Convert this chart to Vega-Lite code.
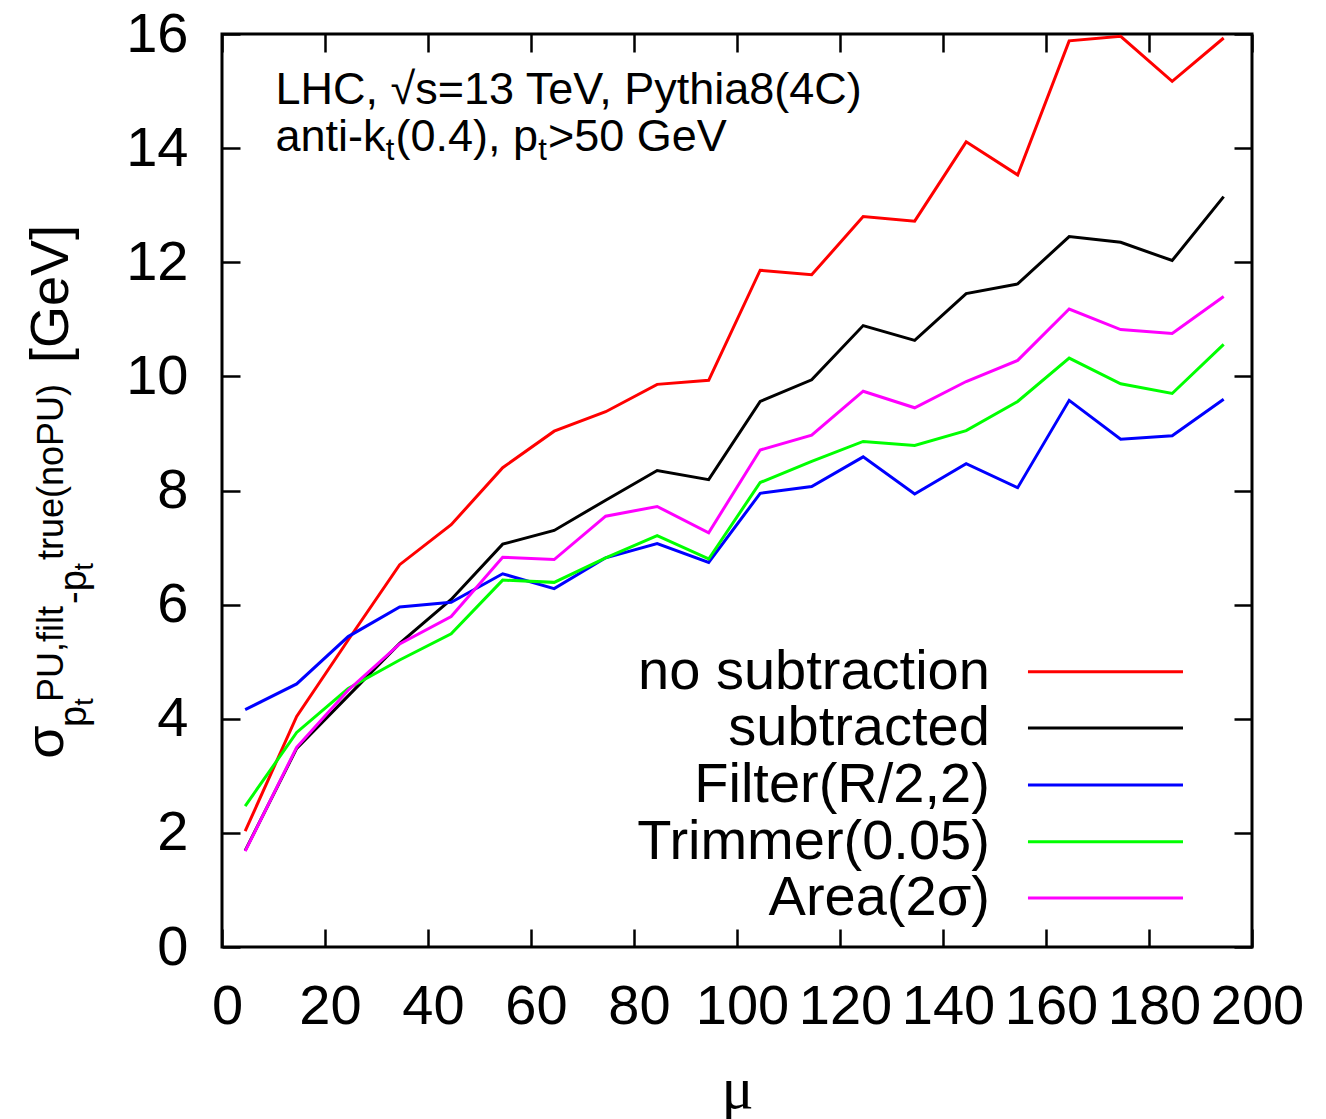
{
  "$schema": "https://vega.github.io/schema/vega-lite/v6.json",
  "width": 1030,
  "height": 913,
  "autosize": {"type": "none"},
  "padding": {"left": 222, "top": 34, "right": 74, "bottom": 172},
  "background": "white",
  "config": {
    "view": {"stroke": "black", "strokeWidth": 3},
    "font": "Liberation Sans",
    "axis": {
      "grid": false, "domain": false, "tickColor": "black", "tickWidth": 2.5, "tickSize": -18,
      "labelColor": "black", "labelFont": "Liberation Sans", "labelFontSize": 56,
      "labelOverlap": false, "labelFlush": false
    },
    "text": {"font": "Liberation Sans", "color": "black"}
  },
  "datasets": {
    "curves": [
      {"mu": 4.5, "sigma": 2.03, "series": "no subtraction"},
      {"mu": 14.5, "sigma": 4.04, "series": "no subtraction"},
      {"mu": 24.5, "sigma": 5.38, "series": "no subtraction"},
      {"mu": 34.5, "sigma": 6.70, "series": "no subtraction"},
      {"mu": 44.5, "sigma": 7.40, "series": "no subtraction"},
      {"mu": 54.5, "sigma": 8.40, "series": "no subtraction"},
      {"mu": 64.5, "sigma": 9.04, "series": "no subtraction"},
      {"mu": 74.5, "sigma": 9.38, "series": "no subtraction"},
      {"mu": 84.5, "sigma": 9.86, "series": "no subtraction"},
      {"mu": 94.5, "sigma": 9.93, "series": "no subtraction"},
      {"mu": 104.5, "sigma": 11.86, "series": "no subtraction"},
      {"mu": 114.5, "sigma": 11.78, "series": "no subtraction"},
      {"mu": 124.5, "sigma": 12.80, "series": "no subtraction"},
      {"mu": 134.5, "sigma": 12.72, "series": "no subtraction"},
      {"mu": 144.5, "sigma": 14.11, "series": "no subtraction"},
      {"mu": 154.5, "sigma": 13.53, "series": "no subtraction"},
      {"mu": 164.5, "sigma": 15.88, "series": "no subtraction"},
      {"mu": 174.5, "sigma": 15.96, "series": "no subtraction"},
      {"mu": 184.5, "sigma": 15.17, "series": "no subtraction"},
      {"mu": 194.5, "sigma": 15.93, "series": "no subtraction"},
      {"mu": 4.5, "sigma": 1.69, "series": "subtracted"},
      {"mu": 14.5, "sigma": 3.48, "series": "subtracted"},
      {"mu": 24.5, "sigma": 4.40, "series": "subtracted"},
      {"mu": 34.5, "sigma": 5.32, "series": "subtracted"},
      {"mu": 44.5, "sigma": 6.09, "series": "subtracted"},
      {"mu": 54.5, "sigma": 7.06, "series": "subtracted"},
      {"mu": 64.5, "sigma": 7.30, "series": "subtracted"},
      {"mu": 74.5, "sigma": 7.83, "series": "subtracted"},
      {"mu": 84.5, "sigma": 8.35, "series": "subtracted"},
      {"mu": 94.5, "sigma": 8.19, "series": "subtracted"},
      {"mu": 104.5, "sigma": 9.56, "series": "subtracted"},
      {"mu": 114.5, "sigma": 9.94, "series": "subtracted"},
      {"mu": 124.5, "sigma": 10.89, "series": "subtracted"},
      {"mu": 134.5, "sigma": 10.63, "series": "subtracted"},
      {"mu": 144.5, "sigma": 11.45, "series": "subtracted"},
      {"mu": 154.5, "sigma": 11.62, "series": "subtracted"},
      {"mu": 164.5, "sigma": 12.45, "series": "subtracted"},
      {"mu": 174.5, "sigma": 12.35, "series": "subtracted"},
      {"mu": 184.5, "sigma": 12.03, "series": "subtracted"},
      {"mu": 194.5, "sigma": 13.15, "series": "subtracted"},
      {"mu": 4.5, "sigma": 4.16, "series": "Filter(R/2,2)"},
      {"mu": 14.5, "sigma": 4.61, "series": "Filter(R/2,2)"},
      {"mu": 24.5, "sigma": 5.44, "series": "Filter(R/2,2)"},
      {"mu": 34.5, "sigma": 5.96, "series": "Filter(R/2,2)"},
      {"mu": 44.5, "sigma": 6.04, "series": "Filter(R/2,2)"},
      {"mu": 54.5, "sigma": 6.54, "series": "Filter(R/2,2)"},
      {"mu": 64.5, "sigma": 6.28, "series": "Filter(R/2,2)"},
      {"mu": 74.5, "sigma": 6.82, "series": "Filter(R/2,2)"},
      {"mu": 84.5, "sigma": 7.07, "series": "Filter(R/2,2)"},
      {"mu": 94.5, "sigma": 6.74, "series": "Filter(R/2,2)"},
      {"mu": 104.5, "sigma": 7.95, "series": "Filter(R/2,2)"},
      {"mu": 114.5, "sigma": 8.07, "series": "Filter(R/2,2)"},
      {"mu": 124.5, "sigma": 8.59, "series": "Filter(R/2,2)"},
      {"mu": 134.5, "sigma": 7.94, "series": "Filter(R/2,2)"},
      {"mu": 144.5, "sigma": 8.47, "series": "Filter(R/2,2)"},
      {"mu": 154.5, "sigma": 8.05, "series": "Filter(R/2,2)"},
      {"mu": 164.5, "sigma": 9.58, "series": "Filter(R/2,2)"},
      {"mu": 174.5, "sigma": 8.90, "series": "Filter(R/2,2)"},
      {"mu": 184.5, "sigma": 8.96, "series": "Filter(R/2,2)"},
      {"mu": 194.5, "sigma": 9.60, "series": "Filter(R/2,2)"},
      {"mu": 4.5, "sigma": 2.47, "series": "Trimmer(0.05)"},
      {"mu": 14.5, "sigma": 3.76, "series": "Trimmer(0.05)"},
      {"mu": 24.5, "sigma": 4.53, "series": "Trimmer(0.05)"},
      {"mu": 34.5, "sigma": 5.03, "series": "Trimmer(0.05)"},
      {"mu": 44.5, "sigma": 5.49, "series": "Trimmer(0.05)"},
      {"mu": 54.5, "sigma": 6.43, "series": "Trimmer(0.05)"},
      {"mu": 64.5, "sigma": 6.39, "series": "Trimmer(0.05)"},
      {"mu": 74.5, "sigma": 6.82, "series": "Trimmer(0.05)"},
      {"mu": 84.5, "sigma": 7.21, "series": "Trimmer(0.05)"},
      {"mu": 94.5, "sigma": 6.80, "series": "Trimmer(0.05)"},
      {"mu": 104.5, "sigma": 8.14, "series": "Trimmer(0.05)"},
      {"mu": 114.5, "sigma": 8.51, "series": "Trimmer(0.05)"},
      {"mu": 124.5, "sigma": 8.86, "series": "Trimmer(0.05)"},
      {"mu": 134.5, "sigma": 8.79, "series": "Trimmer(0.05)"},
      {"mu": 144.5, "sigma": 9.05, "series": "Trimmer(0.05)"},
      {"mu": 154.5, "sigma": 9.56, "series": "Trimmer(0.05)"},
      {"mu": 164.5, "sigma": 10.32, "series": "Trimmer(0.05)"},
      {"mu": 174.5, "sigma": 9.87, "series": "Trimmer(0.05)"},
      {"mu": 184.5, "sigma": 9.70, "series": "Trimmer(0.05)"},
      {"mu": 194.5, "sigma": 10.56, "series": "Trimmer(0.05)"},
      {"mu": 4.5, "sigma": 1.68, "series": "Area(2σ)"},
      {"mu": 14.5, "sigma": 3.50, "series": "Area(2σ)"},
      {"mu": 24.5, "sigma": 4.50, "series": "Area(2σ)"},
      {"mu": 34.5, "sigma": 5.31, "series": "Area(2σ)"},
      {"mu": 44.5, "sigma": 5.79, "series": "Area(2σ)"},
      {"mu": 54.5, "sigma": 6.83, "series": "Area(2σ)"},
      {"mu": 64.5, "sigma": 6.79, "series": "Area(2σ)"},
      {"mu": 74.5, "sigma": 7.55, "series": "Area(2σ)"},
      {"mu": 84.5, "sigma": 7.72, "series": "Area(2σ)"},
      {"mu": 94.5, "sigma": 7.26, "series": "Area(2σ)"},
      {"mu": 104.5, "sigma": 8.71, "series": "Area(2σ)"},
      {"mu": 114.5, "sigma": 8.97, "series": "Area(2σ)"},
      {"mu": 124.5, "sigma": 9.74, "series": "Area(2σ)"},
      {"mu": 134.5, "sigma": 9.45, "series": "Area(2σ)"},
      {"mu": 144.5, "sigma": 9.91, "series": "Area(2σ)"},
      {"mu": 154.5, "sigma": 10.28, "series": "Area(2σ)"},
      {"mu": 164.5, "sigma": 11.18, "series": "Area(2σ)"},
      {"mu": 174.5, "sigma": 10.82, "series": "Area(2σ)"},
      {"mu": 184.5, "sigma": 10.75, "series": "Area(2σ)"},
      {"mu": 194.5, "sigma": 11.40, "series": "Area(2σ)"}
    ]
  },
  "layer": [
    {
      "data": {"name": "curves"},
      "mark": {"type": "line", "strokeWidth": 3},
      "encoding": {
        "x": {"field": "mu", "type": "quantitative", "scale": {"domain": [0, 200], "nice": false, "zero": false},
          "axis": {"orient": "bottom", "values": [0, 20, 40, 60, 80, 100, 120, 140, 160, 180, 200], "labelPadding": 50, "labelOffset": 5,
            "title": "μ", "titleFont": "Liberation Serif", "titleFontSize": 60, "titleFontWeight": "normal", "titleColor": "black", "titlePadding": 26}},
        "y": {"field": "sigma", "type": "quantitative", "scale": {"domain": [0, 16], "nice": false, "zero": false},
          "axis": {"orient": "left", "values": [0, 2, 4, 6, 8, 10, 12, 14, 16], "labelPadding": 52, "title": null}},
        "color": {"field": "series", "type": "nominal",
          "scale": {"domain": ["no subtraction", "subtracted", "Filter(R/2,2)", "Trimmer(0.05)", "Area(2σ)"],
                    "range": ["#ff0000", "#000000", "#0000ff", "#00ff00", "#ff00ff"]},
          "legend": null}
      }
    },
    {
      "data": {"name": "curves"},
      "mark": {"type": "point", "opacity": 0},
      "encoding": {
        "x": {"field": "mu", "type": "quantitative", "scale": {"domain": [0, 200], "nice": false, "zero": false},
          "axis": {"orient": "top", "values": [0, 20, 40, 60, 80, 100, 120, 140, 160, 180, 200], "labels": false, "title": null}},
        "y": {"field": "sigma", "type": "quantitative", "scale": {"domain": [0, 16], "nice": false, "zero": false},
          "axis": {"orient": "right", "values": [0, 2, 4, 6, 8, 10, 12, 14, 16], "labels": false, "title": null}}
      }
    },
    {
      "data": {"values": [{"label": "LHC, √s=13 TeV, Pythia8(4C)"}]},
      "mark": {"type": "text", "align": "left", "baseline": "alphabetic", "fontSize": 45},
      "encoding": {
        "x": {"datum": 10.4, "scale": {"domain": [0, 200], "nice": false, "zero": false}, "axis": null},
        "y": {"datum": 14.77, "scale": {"domain": [0, 16], "nice": false, "zero": false}, "axis": null},
        "text": {"field": "label"}
      }
    },
    {
      "data": {"values": [{"label": "anti-k"}]},
      "mark": {"type": "text", "align": "left", "baseline": "alphabetic", "fontSize": 45},
      "encoding": {
        "x": {"datum": 10.4, "scale": {"domain": [0, 200], "nice": false, "zero": false}, "axis": null},
        "y": {"datum": 13.95, "scale": {"domain": [0, 16], "nice": false, "zero": false}, "axis": null},
        "text": {"field": "label"}
      }
    },
    {
      "data": {"values": [{"label": "t"}]},
      "mark": {"type": "text", "align": "left", "baseline": "alphabetic", "fontSize": 31},
      "encoding": {
        "x": {"datum": 31.8, "scale": {"domain": [0, 200], "nice": false, "zero": false}, "axis": null},
        "y": {"datum": 13.79, "scale": {"domain": [0, 16], "nice": false, "zero": false}, "axis": null},
        "text": {"field": "label"}
      }
    },
    {
      "data": {"values": [{"label": "(0.4), p"}]},
      "mark": {"type": "text", "align": "left", "baseline": "alphabetic", "fontSize": 45},
      "encoding": {
        "x": {"datum": 33.7, "scale": {"domain": [0, 200], "nice": false, "zero": false}, "axis": null},
        "y": {"datum": 13.95, "scale": {"domain": [0, 16], "nice": false, "zero": false}, "axis": null},
        "text": {"field": "label"}
      }
    },
    {
      "data": {"values": [{"label": "t"}]},
      "mark": {"type": "text", "align": "left", "baseline": "alphabetic", "fontSize": 31},
      "encoding": {
        "x": {"datum": 61.4, "scale": {"domain": [0, 200], "nice": false, "zero": false}, "axis": null},
        "y": {"datum": 13.79, "scale": {"domain": [0, 16], "nice": false, "zero": false}, "axis": null},
        "text": {"field": "label"}
      }
    },
    {
      "data": {"values": [{"label": ">50 GeV"}]},
      "mark": {"type": "text", "align": "left", "baseline": "alphabetic", "fontSize": 45},
      "encoding": {
        "x": {"datum": 63.3, "scale": {"domain": [0, 200], "nice": false, "zero": false}, "axis": null},
        "y": {"datum": 13.95, "scale": {"domain": [0, 16], "nice": false, "zero": false}, "axis": null},
        "text": {"field": "label"}
      }
    },
    {
      "data": {"values": [{"label": "no subtraction"}]},
      "mark": {"type": "text", "align": "right", "baseline": "middle", "fontSize": 56},
      "encoding": {
        "x": {"datum": 149.1, "scale": {"domain": [0, 200], "nice": false, "zero": false}, "axis": null},
        "y": {"datum": 4.825, "scale": {"domain": [0, 16], "nice": false, "zero": false}, "axis": null},
        "text": {"field": "label"}
      }
    },
    {
      "data": {"values": [{"label": "subtracted"}]},
      "mark": {"type": "text", "align": "right", "baseline": "middle", "fontSize": 56},
      "encoding": {
        "x": {"datum": 149.1, "scale": {"domain": [0, 200], "nice": false, "zero": false}, "axis": null},
        "y": {"datum": 3.838, "scale": {"domain": [0, 16], "nice": false, "zero": false}, "axis": null},
        "text": {"field": "label"}
      }
    },
    {
      "data": {"values": [{"label": "Filter(R/2,2)"}]},
      "mark": {"type": "text", "align": "right", "baseline": "middle", "fontSize": 56},
      "encoding": {
        "x": {"datum": 149.1, "scale": {"domain": [0, 200], "nice": false, "zero": false}, "axis": null},
        "y": {"datum": 2.839, "scale": {"domain": [0, 16], "nice": false, "zero": false}, "axis": null},
        "text": {"field": "label"}
      }
    },
    {
      "data": {"values": [{"label": "Trimmer(0.05)"}]},
      "mark": {"type": "text", "align": "right", "baseline": "middle", "fontSize": 56},
      "encoding": {
        "x": {"datum": 149.1, "scale": {"domain": [0, 200], "nice": false, "zero": false}, "axis": null},
        "y": {"datum": 1.845, "scale": {"domain": [0, 16], "nice": false, "zero": false}, "axis": null},
        "text": {"field": "label"}
      }
    },
    {
      "data": {"values": [{"label": "Area(2σ)"}]},
      "mark": {"type": "text", "align": "right", "baseline": "middle", "fontSize": 56},
      "encoding": {
        "x": {"datum": 149.1, "scale": {"domain": [0, 200], "nice": false, "zero": false}, "axis": null},
        "y": {"datum": 0.859, "scale": {"domain": [0, 16], "nice": false, "zero": false}, "axis": null},
        "text": {"field": "label"}
      }
    },
    {
      "data": {"values": [{"series": "no subtraction"}]},
      "mark": {"type": "rule", "strokeWidth": 3, "color": "#ff0000"},
      "encoding": {
        "x": {"datum": 156.5, "scale": {"domain": [0, 200], "nice": false, "zero": false}, "axis": null},
        "x2": {"datum": 186.6},
        "y": {"datum": 4.825, "scale": {"domain": [0, 16], "nice": false, "zero": false}, "axis": null}
      }
    },
    {
      "data": {"values": [{"series": "subtracted"}]},
      "mark": {"type": "rule", "strokeWidth": 3, "color": "#000000"},
      "encoding": {
        "x": {"datum": 156.5, "scale": {"domain": [0, 200], "nice": false, "zero": false}, "axis": null},
        "x2": {"datum": 186.6},
        "y": {"datum": 3.838, "scale": {"domain": [0, 16], "nice": false, "zero": false}, "axis": null}
      }
    },
    {
      "data": {"values": [{"series": "Filter(R/2,2)"}]},
      "mark": {"type": "rule", "strokeWidth": 3, "color": "#0000ff"},
      "encoding": {
        "x": {"datum": 156.5, "scale": {"domain": [0, 200], "nice": false, "zero": false}, "axis": null},
        "x2": {"datum": 186.6},
        "y": {"datum": 2.839, "scale": {"domain": [0, 16], "nice": false, "zero": false}, "axis": null}
      }
    },
    {
      "data": {"values": [{"series": "Trimmer(0.05)"}]},
      "mark": {"type": "rule", "strokeWidth": 3, "color": "#00ff00"},
      "encoding": {
        "x": {"datum": 156.5, "scale": {"domain": [0, 200], "nice": false, "zero": false}, "axis": null},
        "x2": {"datum": 186.6},
        "y": {"datum": 1.845, "scale": {"domain": [0, 16], "nice": false, "zero": false}, "axis": null}
      }
    },
    {
      "data": {"values": [{"series": "Area(2σ)"}]},
      "mark": {"type": "rule", "strokeWidth": 3, "color": "#ff00ff"},
      "encoding": {
        "x": {"datum": 156.5, "scale": {"domain": [0, 200], "nice": false, "zero": false}, "axis": null},
        "x2": {"datum": 186.6},
        "y": {"datum": 0.859, "scale": {"domain": [0, 16], "nice": false, "zero": false}, "axis": null}
      }
    },
    {
      "data": {"values": [{"label": "σ"}]},
      "mark": {"type": "text", "align": "left", "baseline": "alphabetic", "angle": 270, "fontSize": 54},
      "encoding": {
        "x": {"datum": -30.87, "scale": {"domain": [0, 200], "nice": false, "zero": false}, "axis": null},
        "y": {"datum": 3.3, "scale": {"domain": [0, 16], "nice": false, "zero": false}, "axis": null},
        "text": {"field": "label"}
      }
    },
    {
      "data": {"values": [{"label": "p"}]},
      "mark": {"type": "text", "align": "left", "baseline": "alphabetic", "angle": 270, "fontSize": 38},
      "encoding": {
        "x": {"datum": -26.41, "scale": {"domain": [0, 200], "nice": false, "zero": false}, "axis": null},
        "y": {"datum": 3.855, "scale": {"domain": [0, 16], "nice": false, "zero": false}, "axis": null},
        "text": {"field": "label"}
      }
    },
    {
      "data": {"values": [{"label": "t"}]},
      "mark": {"type": "text", "align": "left", "baseline": "alphabetic", "angle": 270, "fontSize": 27},
      "encoding": {
        "x": {"datum": -25.05, "scale": {"domain": [0, 200], "nice": false, "zero": false}, "axis": null},
        "y": {"datum": 4.23, "scale": {"domain": [0, 16], "nice": false, "zero": false}, "axis": null},
        "text": {"field": "label"}
      }
    },
    {
      "data": {"values": [{"label": "PU,filt"}]},
      "mark": {"type": "text", "align": "left", "baseline": "alphabetic", "angle": 270, "fontSize": 36},
      "encoding": {
        "x": {"datum": -30.87, "scale": {"domain": [0, 200], "nice": false, "zero": false}, "axis": null},
        "y": {"datum": 4.294, "scale": {"domain": [0, 16], "nice": false, "zero": false}, "axis": null},
        "text": {"field": "label"}
      }
    },
    {
      "data": {"values": [{"label": "-p"}]},
      "mark": {"type": "text", "align": "left", "baseline": "alphabetic", "angle": 270, "fontSize": 38},
      "encoding": {
        "x": {"datum": -26.41, "scale": {"domain": [0, 200], "nice": false, "zero": false}, "axis": null},
        "y": {"datum": 6.011, "scale": {"domain": [0, 16], "nice": false, "zero": false}, "axis": null},
        "text": {"field": "label"}
      }
    },
    {
      "data": {"values": [{"label": "t"}]},
      "mark": {"type": "text", "align": "left", "baseline": "alphabetic", "angle": 270, "fontSize": 27},
      "encoding": {
        "x": {"datum": -25.05, "scale": {"domain": [0, 200], "nice": false, "zero": false}, "axis": null},
        "y": {"datum": 6.6, "scale": {"domain": [0, 16], "nice": false, "zero": false}, "axis": null},
        "text": {"field": "label"}
      }
    },
    {
      "data": {"values": [{"label": "true(noPU)"}]},
      "mark": {"type": "text", "align": "left", "baseline": "alphabetic", "angle": 270, "fontSize": 36},
      "encoding": {
        "x": {"datum": -30.87, "scale": {"domain": [0, 200], "nice": false, "zero": false}, "axis": null},
        "y": {"datum": 6.782, "scale": {"domain": [0, 16], "nice": false, "zero": false}, "axis": null},
        "text": {"field": "label"}
      }
    },
    {
      "data": {"values": [{"label": "[GeV]"}]},
      "mark": {"type": "text", "align": "left", "baseline": "alphabetic", "angle": 270, "fontSize": 54},
      "encoding": {
        "x": {"datum": -29.9, "scale": {"domain": [0, 200], "nice": false, "zero": false}, "axis": null},
        "y": {"datum": 10.235, "scale": {"domain": [0, 16], "nice": false, "zero": false}, "axis": null},
        "text": {"field": "label"}
      }
    }
  ]
}
